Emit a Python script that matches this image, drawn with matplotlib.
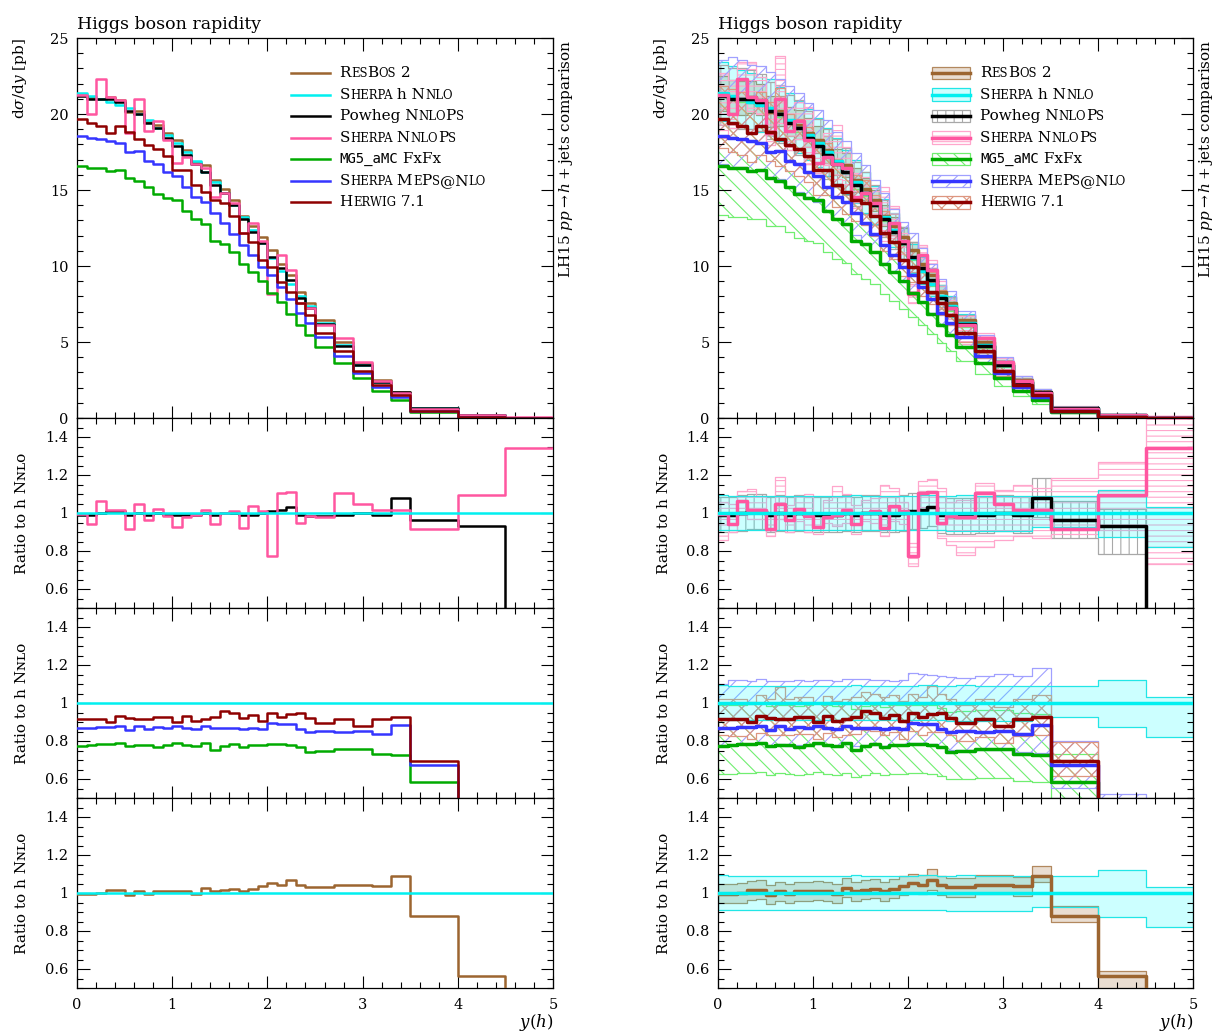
import numpy as np
import matplotlib
matplotlib.use('Agg')
import matplotlib.pyplot as plt
from matplotlib.offsetbox import TextArea, HPacker, VPacker, DrawingArea, AnchoredOffsetbox
from matplotlib.lines import Line2D
from matplotlib.patches import Rectangle
from matplotlib.ticker import MultipleLocator, FuncFormatter

SERIF = ['DejaVu Serif', 'DejaVu Sans']
plt.rcParams['font.family'] = SERIF
plt.rcParams['mathtext.fontset'] = 'dejavuserif'
plt.rcParams['hatch.linewidth'] = 0.8

# ---------------- data ----------------
edges = [0.0, 0.1, 0.2, 0.3, 0.4, 0.5, 0.6, 0.7, 0.8, 0.9, 1.0, 1.1, 1.2, 1.3, 1.4,
         1.5, 1.6, 1.7, 1.8, 1.9, 2.0, 2.1, 2.2, 2.3, 2.4, 2.5, 2.7, 2.9, 3.1, 3.3,
         3.5, 4.0, 4.5, 5.0]

# Sherpa h NNLO (reference), dsigma/dy [pb]
ref = [21.4, 21.2, 21.0, 20.8, 20.6, 20.4, 20.0, 19.6, 19.1, 18.6, 18.1, 17.5, 16.9,
       16.2, 15.5, 14.8, 14.0, 13.2, 12.35, 11.5, 10.5, 9.7, 8.8, 8.0, 7.35, 6.25,
       4.8, 3.5, 2.4, 1.6, 0.68, 0.18, 0.03]

# ratios to Sherpa h NNLO
r_resbos = [0.993, 0.996, 1.0, 1.014, 1.017, 0.988, 1.01, 0.993, 1.01, 1.009, 1.012,
            1.009, 0.996, 1.028, 1.009, 1.017, 1.023, 1.009, 1.023, 1.037, 1.052, 1.043,
            1.07, 1.04, 1.031, 1.03, 1.043, 1.043, 1.035, 1.089, 0.878, 0.562, 0.3]
r_powheg = [0.99, 0.99, 1.0, 1.01, 1.01, 0.99, 1.0, 0.99, 1.0, 0.99, 0.99, 0.99, 0.99,
            1.0, 0.99, 1.0, 1.0, 0.99, 0.99, 1.0, 1.01, 1.015, 1.03, 0.99, 0.985, 0.985,
            0.99, 1.0, 0.99, 1.08, 0.963, 0.932, 0.3]
r_nnlops = [0.993, 0.944, 1.063, 1.016, 1.016, 0.918, 1.05, 0.963, 1.023, 0.984, 0.926,
            0.98, 0.988, 1.016, 0.94, 1.0, 1.012, 0.92, 1.037, 1.01, 0.775, 1.103, 1.109,
            0.946, 0.984, 0.98, 1.103, 1.05, 1.016, 1.016, 0.918, 1.097, 1.344]
r_mg5 = [0.774, 0.777, 0.782, 0.782, 0.791, 0.774, 0.781, 0.777, 0.77, 0.777, 0.791,
         0.777, 0.774, 0.788, 0.753, 0.774, 0.782, 0.77, 0.777, 0.781, 0.784, 0.784,
         0.781, 0.767, 0.742, 0.749, 0.756, 0.756, 0.732, 0.726, 0.584, 0.3, 0.3]
r_meps = [0.867, 0.87, 0.875, 0.875, 0.879, 0.858, 0.879, 0.861, 0.875, 0.87, 0.879,
          0.87, 0.861, 0.879, 0.87, 0.867, 0.867, 0.861, 0.868, 0.865, 0.893, 0.888,
          0.891, 0.861, 0.847, 0.853, 0.849, 0.853, 0.837, 0.884, 0.672, 0.3, 0.3]
r_herwig = [0.918, 0.914, 0.914, 0.9, 0.932, 0.921, 0.918, 0.918, 0.928, 0.925, 0.9,
            0.932, 0.907, 0.918, 0.925, 0.956, 0.949, 0.923, 0.935, 0.904, 0.949, 0.925,
            0.942, 0.946, 0.921, 0.893, 0.914, 0.879, 0.918, 0.928, 0.693, 0.3, 0.3]

# uncertainty bands (ratio to reference)
cyan_up = [1.093, 1.091, 1.091, 1.09, 1.09, 1.092, 1.09, 1.09, 1.091, 1.092, 1.09, 1.09,
           1.091, 1.09, 1.093, 1.092, 1.09, 1.091, 1.09, 1.092, 1.09, 1.095, 1.094, 1.09,
           1.092, 1.093, 1.09, 1.09, 1.088, 1.089, 1.087, 1.122, 1.031]
cyan_dn = [0.912, 0.913, 0.912, 0.913, 0.912, 0.911, 0.912, 0.912, 0.912, 0.911, 0.911,
           0.91, 0.911, 0.91, 0.911, 0.91, 0.91, 0.911, 0.91, 0.912, 0.91, 0.909, 0.91,
           0.909, 0.906, 0.904, 0.905, 0.904, 0.906, 0.925, 0.927, 0.875, 0.823]
resbos_up = [1.05, 1.05, 1.055, 1.065, 1.068, 1.04, 1.06, 1.045, 1.06, 1.06, 1.062, 1.06,
             1.047, 1.078, 1.06, 1.067, 1.073, 1.06, 1.073, 1.087, 1.1, 1.093, 1.125, 1.09,
             1.08, 1.08, 1.093, 1.093, 1.085, 1.144, 0.93, 0.587, 0.35]
resbos_dn = [0.945, 0.945, 0.95, 0.965, 0.968, 0.94, 0.96, 0.945, 0.96, 0.958, 0.962,
             0.958, 0.946, 0.978, 0.958, 0.967, 0.973, 0.958, 0.973, 0.987, 1.0, 0.993,
             1.015, 0.99, 0.98, 0.98, 0.993, 0.993, 0.985, 1.057, 0.845, 0.45, 0.25]
powheg_up = [1.085, 1.085, 1.095, 1.1, 1.1, 1.085, 1.095, 1.085, 1.095, 1.085, 1.085,
             1.085, 1.085, 1.095, 1.085, 1.095, 1.095, 1.085, 1.085, 1.095, 1.105, 1.115,
             1.118, 1.085, 1.08, 1.08, 1.085, 1.095, 1.085, 1.186, 1.063, 1.023, 0.4]
powheg_dn = [0.9, 0.9, 0.905, 0.915, 0.915, 0.9, 0.905, 0.9, 0.905, 0.9, 0.9, 0.9, 0.9,
             0.905, 0.9, 0.905, 0.905, 0.9, 0.9, 0.905, 0.915, 0.92, 0.93, 0.895, 0.89,
             0.89, 0.895, 0.905, 0.895, 0.98, 0.867, 0.782, 0.2]
nnlops_up = [1.06, 1.05, 1.115, 1.125, 1.09, 1.0, 1.19, 1.04, 1.09, 1.1, 1.0, 1.07, 1.14,
             1.1, 1.04, 1.07, 1.08, 1.15, 1.13, 1.06, 0.84, 1.17, 1.18, 1.13, 1.06, 1.07,
             1.16, 1.12, 1.15, 1.13, 1.185, 1.27, 1.6]
nnlops_dn = [0.86, 0.9, 0.99, 0.97, 0.97, 0.88, 0.97, 0.9, 0.96, 0.9, 0.89, 0.95, 0.93,
             0.95, 0.89, 0.96, 0.95, 0.88, 0.96, 0.94, 0.72, 1.03, 1.03, 0.87, 0.83, 0.78,
             0.82, 0.86, 0.88, 0.87, 0.89, 0.91, 0.73]
mg5_up = [0.99, 0.99, 0.99, 0.995, 1.0, 0.985, 0.99, 0.99, 0.985, 0.99, 1.0, 0.99, 0.985,
          0.995, 0.97, 0.985, 0.99, 0.98, 0.99, 0.99, 0.99, 0.99, 0.99, 0.975, 0.955, 0.96,
          0.965, 0.965, 0.945, 0.94, 0.73, 0.4, 0.4]
mg5_dn = [0.625, 0.625, 0.63, 0.63, 0.635, 0.62, 0.63, 0.625, 0.62, 0.625, 0.635, 0.625,
          0.62, 0.63, 0.61, 0.62, 0.63, 0.62, 0.625, 0.625, 0.63, 0.63, 0.625, 0.615, 0.6,
          0.6, 0.605, 0.605, 0.59, 0.585, 0.47, 0.3, 0.3]
meps_up = [1.1, 1.12, 1.12, 1.115, 1.125, 1.115, 1.115, 1.115, 1.12, 1.115, 1.12, 1.12,
           1.115, 1.125, 1.125, 1.125, 1.12, 1.12, 1.115, 1.12, 1.16, 1.155, 1.15, 1.14,
           1.135, 1.13, 1.14, 1.155, 1.14, 1.185, 0.8, 0.52, 0.45]
meps_dn = [0.78, 0.78, 0.785, 0.785, 0.79, 0.775, 0.785, 0.775, 0.78, 0.78, 0.785, 0.78,
           0.775, 0.785, 0.775, 0.78, 0.78, 0.775, 0.78, 0.78, 0.79, 0.79, 0.785, 0.77,
           0.755, 0.755, 0.755, 0.755, 0.74, 0.735, 0.555, 0.3, 0.3]
herwig_up = [1.02, 1.02, 1.02, 1.005, 1.04, 1.02, 1.085, 1.02, 1.03, 1.03, 1.0, 1.035,
             1.01, 1.02, 1.03, 1.06, 1.05, 1.03, 1.04, 1.01, 1.05, 1.03, 1.09, 1.05, 1.02,
             0.99, 1.02, 0.98, 1.02, 1.04, 0.795, 0.4, 0.4]
herwig_dn = [0.83, 0.825, 0.825, 0.81, 0.84, 0.83, 0.83, 0.83, 0.835, 0.835, 0.81, 0.84,
             0.82, 0.83, 0.835, 0.86, 0.855, 0.83, 0.845, 0.81, 0.855, 0.83, 0.85, 0.85,
             0.83, 0.8, 0.82, 0.79, 0.825, 0.83, 0.616, 0.2, 0.2]

ones = [1.0] * len(ref)

# ---------------- styles ----------------
C = {'resbos': '#9c6530', 'shnnlo': '#00f0f0', 'powheg': '#000000', 'nnlops': '#ff56a0',
     'mg5': '#00aa00', 'meps': '#3535ff', 'herwig': '#8e0000'}

BAND = {
    'resbos': dict(facecolor=(0.61, 0.40, 0.19, 0.22), edgecolor=(0.61, 0.40, 0.19, 0.75), hatch=None),
    'shnnlo': dict(facecolor=(0.0, 1.0, 1.0, 0.2), edgecolor='#22e6e6', hatch=None),
    'powheg': dict(facecolor='none', edgecolor='#a8a8a8', hatch='||'),
    'nnlops': dict(facecolor='none', edgecolor='#ffa6cc', hatch='---'),
    'mg5': dict(facecolor='none', edgecolor='#70ee70', hatch='\\\\'),
    'meps': dict(facecolor='none', edgecolor='#a0a0ff', hatch='//'),
    'herwig': dict(facecolor='none', edgecolor='#dd9680', hatch='xx'),
}

E = np.array(edges)
REF = np.array(ref)


def ext(v):
    v = np.asarray(v, dtype=float)
    return np.append(v, v[-1])


def draw_line(ax, vals, key, lw, z):
    ax.step(E, ext(vals), where='post', color=C[key], lw=lw, zorder=z)


def draw_band(ax, lo, hi, key, z):
    st = BAND[key]
    kw = dict(step='post', facecolor=st['facecolor'], edgecolor=st['edgecolor'],
              linewidth=0.9, zorder=z)
    if st['hatch']:
        kw['hatch'] = st['hatch']
    ax.fill_between(E, ext(lo), ext(hi), **kw)


fig = plt.figure(figsize=(12.17, 10.31), dpi=100)
W, H = 1217.0, 1031.0


def mkax(x0, x1, y0, y1):
    return fig.add_axes([x0 / W, 1 - y1 / H, (x1 - x0) / W, (y1 - y0) / H])


fmt = FuncFormatter(lambda v, p: f'{v:g}')

cols = [(77, 553), (718, 1193)]
rows = [(38, 418), (418, 608), (608, 798), (798, 988)]

ylab_ratio = 'Ratio to h N\u0274\u029f\u1d0f'

series_main = [('resbos', r_resbos), ('shnnlo', ones), ('powheg', r_powheg),
               ('nnlops', r_nnlops), ('mg5', r_mg5), ('meps', r_meps), ('herwig', r_herwig)]
bands = {'resbos': (resbos_dn, resbos_up), 'shnnlo': (cyan_dn, cyan_up),
         'powheg': (powheg_dn, powheg_up), 'nnlops': (nnlops_dn, nnlops_up),
         'mg5': (mg5_dn, mg5_up), 'meps': (meps_dn, meps_up), 'herwig': (herwig_dn, herwig_up)}
ratio_groups = [[('powheg', r_powheg), ('nnlops', r_nnlops)],
                [('mg5', r_mg5), ('meps', r_meps), ('herwig', r_herwig)],
                [('resbos', r_resbos)]]

legend_spec = [
    ('resbos', [('R', 'n'), ('es', 's'), ('B', 'n'), ('os', 's'), (' 2', 'n')]),
    ('shnnlo', [('S', 'n'), ('herpa', 's'), (' h N', 'n'), ('nlo', 's')]),
    ('powheg', [('Powheg N', 'n'), ('nlo', 's'), ('P', 'n'), ('s', 's')]),
    ('nnlops', [('S', 'n'), ('herpa', 's'), (' N', 'n'), ('nlo', 's'), ('P', 'n'), ('s', 's')]),
    ('mg5', [('MG5_aMC', 't'), (' FxFx', 'n')]),
    ('meps', [('S', 'n'), ('herpa', 's'), (' M', 'n'), ('e', 's'), ('P', 'n'), ('s', 's'),
              ('@N', 'n'), ('lo', 's')]),
    ('herwig', [('H', 'n'), ('erwig', 's'), (' 7.1', 'n')]),
]

BIG, SMALL = 11.0, 8.4


def label_box(pieces):
    boxes = []
    for txt, st in pieces:
        if st == 's':
            boxes.append(TextArea(txt.upper(), textprops=dict(size=SMALL, family=SERIF)))
        elif st == 't':
            boxes.append(TextArea(txt, textprops=dict(size=BIG * 0.92, family=['DejaVu Sans Mono', 'Liberation Mono'])))
        else:
            boxes.append(TextArea(txt, textprops=dict(size=BIG, family=SERIF)))
    return HPacker(children=boxes, align='baseline', pad=0, sep=0)


def add_legend(ax, with_bands, lw):
    rowsb = []
    for key, pieces in legend_spec:
        da = DrawingArea(28, 10, 0, 0)
        if with_bands:
            st = BAND[key]
            rect = Rectangle((0, 0.5), 28, 9, facecolor=st['facecolor'],
                             edgecolor=st['edgecolor'], linewidth=0.9,
                             hatch=st['hatch'])
            da.add_artist(rect)
        da.add_artist(Line2D([0, 28], [5, 5], color=C[key], lw=lw))
        rowsb.append(HPacker(children=[da, label_box(pieces)], align='center', pad=0, sep=7))
    vp = VPacker(children=rowsb, align='left', pad=0, sep=5.4)
    ab = AnchoredOffsetbox(loc='upper left', child=vp, pad=0, borderpad=0, frameon=False,
                           bbox_to_anchor=(0.4496, 0.926), bbox_transform=ax.transAxes)
    ax.add_artist(ab)


for ci, (x0, x1) in enumerate(cols):
    right = ci == 1
    lw = 2.5 if right else 1.8
    axes = [mkax(x0, x1, y0, y1) for (y0, y1) in rows]
    for i, ax in enumerate(axes):
        ax.set_xlim(0, 5)
        ax.xaxis.set_major_locator(MultipleLocator(1))
        ax.xaxis.set_minor_locator(MultipleLocator(0.2))
        ax.tick_params(which='both', direction='in', top=True, right=True, width=0.8,
                       labelsize=10.5)
        ax.tick_params(which='major', length=9)
        ax.tick_params(which='minor', length=4.5)
        ax.tick_params(axis='x', pad=7)
        ax.tick_params(axis='y', pad=6)
        ax.yaxis.set_major_formatter(fmt)
        ax.xaxis.set_major_formatter(fmt)
        for s in ax.spines.values():
            s.set_linewidth(0.9)
        if i < 3:
            ax.tick_params(axis='x', labelbottom=False)
    # main panel
    ax = axes[0]
    ax.set_ylim(0, 25)
    ax.yaxis.set_major_locator(MultipleLocator(5))
    ax.yaxis.set_minor_locator(MultipleLocator(1))
    if right:
        for z, (key, _) in enumerate(series_main):
            lo, hi = bands[key]
            draw_band(ax, REF * np.array(lo), REF * np.array(hi), key, 1 + z * 0.01)
    for z, (key, r) in enumerate(series_main):
        draw_line(ax, REF * np.array(r), key, lw, 3 + z * 0.01)
    ax.set_ylabel(r'd$\sigma$/d$y$ [pb]', fontsize=11, ha='right', va='bottom')
    ax.yaxis.set_label_coords(-0.1, 1.0)
    ax.text(0.0, 1.012, 'Higgs boson rapidity', transform=ax.transAxes, ha='left',
            va='bottom', fontsize=12.5)
    ax.text(1.009, 0.995, r'LH15 $pp \rightarrow h + $jets comparison', transform=ax.transAxes,
            rotation=90, ha='left', va='top', fontsize=11)
    add_legend(ax, right, lw)
    # ratio panels
    for gi, group in enumerate(ratio_groups):
        ax = axes[gi + 1]
        ax.set_ylim(0.5, 1.5)
        ax.yaxis.set_major_locator(MultipleLocator(0.2))
        ax.yaxis.set_minor_locator(MultipleLocator(0.05))
        if right:
            for z, (key, _) in enumerate(group):
                lo, hi = bands[key]
                draw_band(ax, lo, hi, key, 1 + z * 0.01)
            draw_band(ax, cyan_dn, cyan_up, 'shnnlo', 1.5)
        for z, (key, r) in enumerate(group):
            draw_line(ax, r, key, lw, 3 + z * 0.01)
        draw_line(ax, ones, 'shnnlo', lw, 4)
        ax.set_ylabel(ylab_ratio, fontsize=11, va='bottom', ha='center')
        ax.yaxis.set_label_coords(-0.1, 0.5)
    axes[3].set_xlabel(r'$y(h)$', loc='right', fontsize=12, labelpad=0)

fig.savefig('out.png', dpi=100)
